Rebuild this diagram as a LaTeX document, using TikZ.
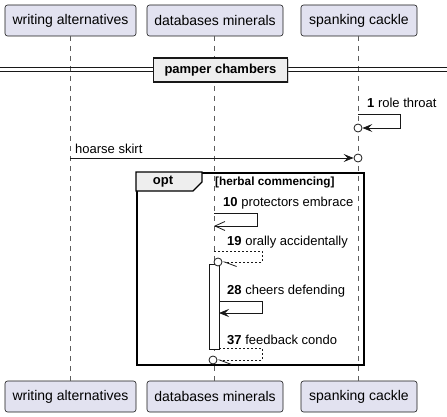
\documentclass[tikz,border=0pt]{standalone}
\usepackage{fontspec}
\setmainfont{Liberation Sans}
\usetikzlibrary{arrows.meta,shadows}
\definecolor{partfill}{HTML}{E2E2F0}
\definecolor{partline}{HTML}{181818}
\definecolor{tabfill}{HTML}{EEEEEE}
\tikzset{
  part/.style={draw=partline, fill=partfill, rounded corners=2.5pt, minimum height=31pt,
    inner sep=0pt, font=\fontsize{14}{16}\selectfont, line width=0.6pt},
  life/.style={draw=partline!70, dash pattern=on 5pt off 5pt, line width=0.5pt},
  msg/.style={font=\fontsize{13}{15}\selectfont, anchor=west, inner sep=0pt},
  ring/.style={circle, draw=partline, fill=white, inner sep=0pt, minimum size=8pt, line width=0.8pt},
  solidarrow/.style={draw=partline, line width=0.8pt, -{Stealth[length=10pt,width=8pt,inset=4pt]}},
  openarrow/.style={draw=partline, line width=0.8pt, -{Straight Barb[length=10pt,width=9pt]}},
  halfarrow/.style={draw=partline, line width=0.8pt, dash pattern=on 2pt off 2pt,
    -{Straight Barb[left,length=12pt,width=9pt]}},
}
\begin{document}
\begin{tikzpicture}[x=1pt,y=-1pt]
\useasboundingbox (0,0) rectangle (447,417);
% participants
\node[part, minimum width=131pt] (pa) at (70.5,20.5) {writing alternatives};
\node[part, minimum width=136pt] (pb) at (215,20.5) {databases minerals};
\node[part, minimum width=116pt] (pc) at (359,20.5) {spanking cackle};
\node[part, minimum width=131pt] (qa) at (70.5,396.5) {writing alternatives};
\node[part, minimum width=136pt] (qb) at (215,396.5) {databases minerals};
\node[part, minimum width=116pt] (qc) at (359,396.5) {spanking cackle};
% lifelines
\coordinate (la1) at (70,36); \coordinate (la2) at (70,381);
\coordinate (lb1) at (214,36); \coordinate (lb2) at (214,381);
\coordinate (lc1) at (358,36); \coordinate (lc2) at (358,381);
\draw[life] (la1) -- (la2);
\draw[life] (lb1) -- (lb2);
\draw[life] (lc1) -- (lc2);
% divider
\coordinate (d1l) at (0,68); \coordinate (d1r) at (447,68);
\coordinate (d2l) at (0,72); \coordinate (d2r) at (447,72);
\draw[line width=1pt, draw=partline] (d1l) -- (d1r);
\draw[line width=1pt, draw=partline] (d2l) -- (d2r);
\node[draw=partline, fill=tabfill, line width=1.5pt, minimum width=134pt, minimum height=24pt,
  inner sep=0pt, font=\bfseries\fontsize{13}{15}\selectfont,
  drop shadow={shadow xshift=1.5pt, shadow yshift=-1.5pt, opacity=0.35}] (div) at (220.5,70) {pamper chambers};
% message 1
\coordinate (m1s) at (358,114);
\coordinate (m1a) at (400,114);
\coordinate (m1b) at (400,128);
\node[ring] (m1r) at (358,128) {};
\draw[solidarrow] (m1s) -- (m1a) -- (m1b) -- (m1r.east);
\node[msg] (m1t) at (367,103) {\textbf{1} role throat};
% hoarse skirt
\coordinate (hs) at (70,158);
\node[ring] (hsr) at (358,158) {};
\draw[solidarrow] (hs) -- (hsr.west);
\node[msg] (hst) at (75,149) {hoarse skirt};
% opt frame
\node[draw=black, line width=1.5pt, minimum width=227pt, minimum height=192pt, inner sep=0pt,
  anchor=north west] (frame) at (136,172) {};
\coordinate (t1) at (136,172); \coordinate (t2) at (202,172); \coordinate (t3) at (202,182);
\coordinate (t4) at (193,191); \coordinate (t5) at (136,191);
\draw[fill=tabfill, line width=1.2pt, draw=black] (t1) -- (t2) -- (t3) -- (t4) -- (t5) -- cycle;
\node[font=\bfseries\fontsize{13}{15}\selectfont, inner sep=0pt] (optt) at (163,181.5) {opt};
\node[msg, font=\bfseries\fontsize{11.8}{13}\selectfont] (guard) at (215,182.5) {[herbal commencing]};
% message 10
\coordinate (m10s) at (214,213);
\coordinate (m10a) at (257,213);
\coordinate (m10b) at (257,226);
\coordinate (m10e) at (214,226);
\draw[openarrow] (m10s) -- (m10a) -- (m10b) -- (m10e);
\node[msg] (m10t) at (223,203) {\textbf{10} protectors embrace};
% activation
\node[draw=partline, fill=white, line width=0.8pt, minimum width=10pt, minimum height=85pt,
  inner sep=0pt, anchor=north west] (act) at (209,264) {};
% message 19
\coordinate (m19s) at (214,251);
\coordinate (m19a) at (262,251);
\coordinate (m19b) at (262,262);
\node[ring] (m19r) at (218,262) {};
\draw[halfarrow] (m19s) -- (m19a) -- (m19b) -- (m19r.east);
\node[msg] (m19t) at (227,242) {\textbf{19} orally accidentally};
% message 28
\coordinate (m28s) at (219,301);
\coordinate (m28a) at (262,301);
\coordinate (m28b) at (262,313);
\coordinate (m28e) at (219,313);
\draw[solidarrow] (m28s) -- (m28a) -- (m28b) -- (m28e);
\node[msg] (m28t) at (227,291) {\textbf{28} cheers defending};
% message 37
\coordinate (m37s) at (219,348);
\coordinate (m37a) at (262,348);
\coordinate (m37b) at (262,360);
\node[ring] (m37r) at (213,360) {};
\draw[halfarrow] (m37s) -- (m37a) -- (m37b) -- (m37r.east);
\node[msg] (m37t) at (227,340) {\textbf{37} feedback condo};
\end{tikzpicture}
\end{document}
